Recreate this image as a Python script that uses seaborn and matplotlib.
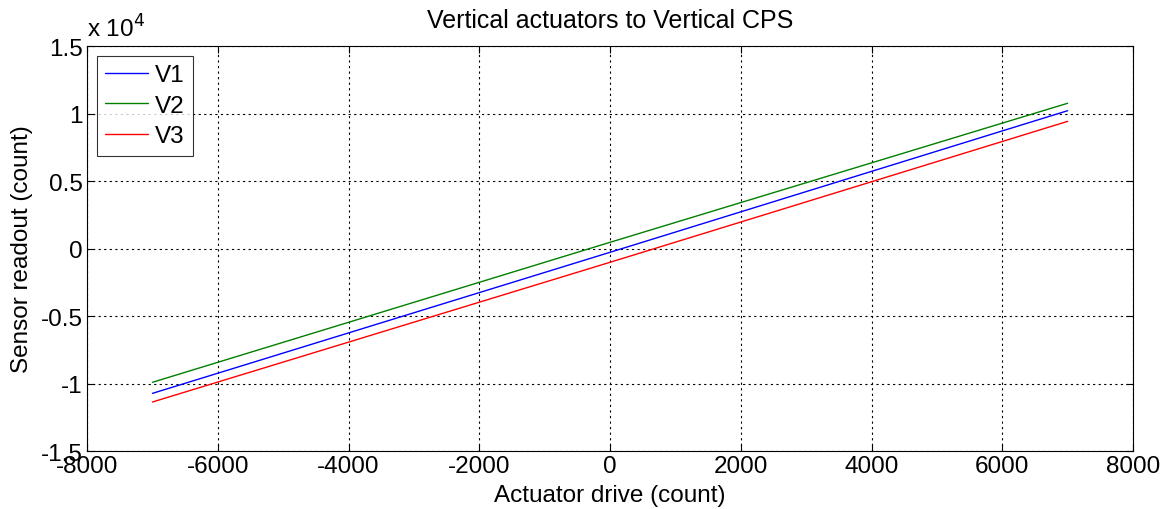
import numpy as np
import pandas as pd
import matplotlib
matplotlib.use('Agg')
import matplotlib.pyplot as plt
import seaborn as sns
from matplotlib.ticker import FuncFormatter

# values (counts)
drive = [-7000, 0, 7000]
v1 = [-10730, -280, 10210]
v2 = [-9910, 460, 10760]
v3 = [-11370, -1020, 9420]
series_names = ['V1', 'V2', 'V3']
colors = ['#0000ff', '#008000', '#ff0000']

FS = 17.5


def main():
    sns.set_style('white')
    plt.rcParams['font.family'] = ['Liberation Sans', 'DejaVu Sans']
    plt.rcParams['axes.unicode_minus'] = False
    plt.rcParams['text.color'] = 'black'
    plt.rcParams['axes.labelcolor'] = 'black'
    plt.rcParams['xtick.color'] = 'black'
    plt.rcParams['ytick.color'] = 'black'

    frames = []
    for name, vals in zip(series_names, [v1, v2, v3]):
        frames.append(pd.DataFrame({'drive': drive, 'readout': vals, 'series': name}))
    data = pd.concat(frames, ignore_index=True)

    fig = plt.figure(figsize=(11.67, 5.10), dpi=100)
    ax = fig.add_axes([0.0746, 0.1137, 0.8963, 0.7941])
    sns.lineplot(data=data, x='drive', y='readout', hue='series', palette=colors,
                 linewidth=1.0, ax=ax, legend=True)

    ax.set_xlim(-8000, 8000)
    ax.set_ylim(-15000, 15000)
    ax.set_xticks(np.arange(-8000, 8001, 2000))
    ax.set_yticks(np.arange(-15000, 15001, 5000))
    ax.yaxis.set_major_formatter(FuncFormatter(lambda v, p: ('%g' % (v / 1e4))))
    ax.tick_params(direction='in', length=5, labelsize=FS, colors='black', pad=3,
                   top=True, right=True, bottom=True, left=True)
    ax.grid(True, linestyle=(0, (2, 3)), color='black', linewidth=0.8)
    for s in ax.spines.values():
        s.set_color('black')
        s.set_linewidth(0.8)

    ax.set_xlabel('Actuator drive (count)', fontsize=FS, labelpad=5, color='black')
    ax.set_ylabel('Sensor readout (count)', fontsize=FS, labelpad=6, color='black')
    ax.set_title('Vertical actuators to Vertical CPS', fontsize=18, pad=14, color='black')
    ax.text(0.0, 1.012, 'x 10$^4$', transform=ax.transAxes, fontsize=FS,
            ha='left', va='bottom', color='black')

    leg = ax.legend(loc='upper left', fontsize=FS, frameon=True, fancybox=False,
                    handlelength=1.75, handletextpad=0.3, borderaxespad=0.4,
                    labelspacing=0.35, borderpad=0.35)
    leg.get_frame().set_edgecolor('black')
    leg.get_frame().set_linewidth(0.8)
    for t in leg.get_texts():
        t.set_color('black')

    fig.savefig('out.png', dpi=100)


if __name__ == '__main__':
    main()
